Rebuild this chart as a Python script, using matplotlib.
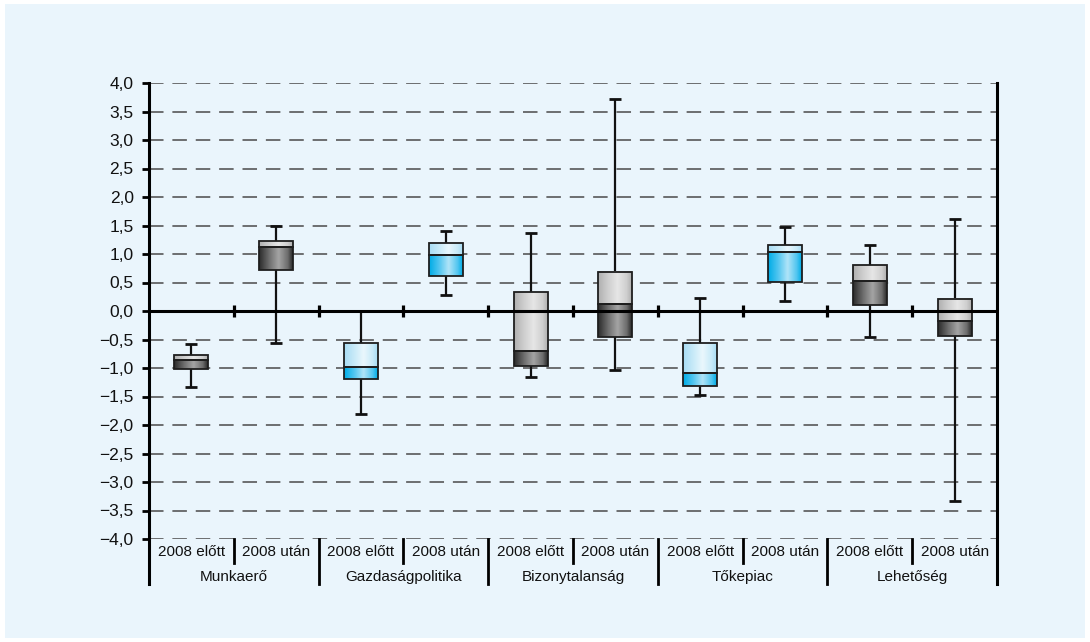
import matplotlib
matplotlib.use("Agg")
import matplotlib.pyplot as plt
import numpy as np
from matplotlib.colors import LinearSegmentedColormap
from matplotlib.patches import Rectangle
from matplotlib.lines import Line2D

plt.rcParams['font.family'] = ['Liberation Sans', 'DejaVu Sans']

# ---- data ----
groups = ['Munkaerő', 'Gazdaságpolitika', 'Bizonytalanság', 'Tőkepiac', 'Lehetőség']
periods = ['2008 előtt', '2008 után']
whisker_low = [-1.33, -0.56, -1.80, 0.275, -1.16, -1.04, -1.47, 0.17, -0.45, -3.33]
q1 = [-1.01, 0.72, -1.20, 0.61, -0.96, -0.45, -1.31, 0.51, 0.10, -0.44]
median = [-0.86, 1.13, -0.98, 0.99, -0.70, 0.12, -1.08, 1.04, 0.53, -0.18]
q3 = [-0.78, 1.22, -0.56, 1.19, 0.33, 0.69, -0.57, 1.15, 0.80, 0.21]
whisker_high = [-0.58, 1.50, 0.0, 1.40, 1.36, 3.72, 0.23, 1.48, 1.16, 1.62]
group_style = ['gray', 'blue', 'gray', 'blue', 'gray']
yticks = np.arange(-4.0, 4.01, 0.5)

# ---- styles ----
bg = '#eaf5fc'
pos = [0, 0.3, 0.58, 0.85, 1]
def cmap(edge, mid, light):
    return LinearSegmentedColormap.from_list('c', list(zip(pos, [edge, mid, light, mid, edge])))
cmaps = {
    'gray': (cmap('#2c2c2c', '#6e6e6e', '#a4a4a4'), cmap('#b0b0b0', '#cfcfcf', '#e6e6e6')),
    'blue': (cmap('#00acE6', '#52c6f0', '#b0e4f8'), cmap('#a8dcf4', '#c8eaf8', '#eaf7fd')),
}

fig = plt.figure(figsize=(10.9, 6.42), dpi=100, facecolor='white')
fig.patches.append(Rectangle((5/1090, 4/642), 1080/1090, 634/642, transform=fig.transFigure,
                             facecolor=bg, edgecolor='none', zorder=-10))
ax = fig.add_axes([149/1090, 1 - 539/642, (997-149)/1090, (539-83)/642])
ax.set_facecolor('none')

n = len(groups) * len(periods)
xs = np.arange(n)
bw = 0.2
cw = 0.071
grad = np.linspace(0, 1, 64).reshape(1, -1)

for i in range(n):
    style = group_style[i // 2]
    cm_low, cm_up = cmaps[style]
    x = xs[i]
    # whisker
    ax.plot([x, x], [whisker_low[i], whisker_high[i]], color='#111111', lw=1.6, zorder=2,
            solid_capstyle='butt')
    for yv in (whisker_low[i], whisker_high[i]):
        ax.plot([x - cw, x + cw], [yv, yv], color='#111111', lw=2.0, zorder=2, solid_capstyle='butt')
    # lower part
    for (y0, y1, cm) in ((q1[i], median[i], cm_low), (median[i], q3[i], cm_up)):
        ax.imshow(grad, cmap=cm, extent=(x - bw, x + bw, y0, y1), aspect='auto',
                  interpolation='bilinear', zorder=3)
        ax.add_patch(Rectangle((x - bw, y0), 2 * bw, y1 - y0, facecolor='none',
                               edgecolor='#1e1e1e', lw=1.3, zorder=4))

ax.set_xlim(-0.5, n - 0.5)
ax.set_ylim(-4.0, 4.0)

# grid
for yv in yticks:
    if abs(yv) < 1e-9:
        continue
    ax.axhline(yv, color='#4a4a4a', lw=1.1, linestyle=(0, (9.5, 5.8)), zorder=1)

# zero line and ticks
ax.axhline(0, color='black', lw=2.2, zorder=6)
ax.plot(np.arange(0.5, n - 0.5, 1.0), np.zeros(n - 1), linestyle='none', marker='|',
        markersize=8, markeredgewidth=2.3, color='black', zorder=6)

# spines
for s in ax.spines.values():
    s.set_visible(False)
bottom_ext = -45 / 456
mid_ext = -24 / 456
for xa in (0.0, 1.0):
    ax.add_line(Line2D([xa, xa], [1.0, bottom_ext], transform=ax.transAxes, color='black',
                       lw=2.2, clip_on=False, zorder=7))

trans = ax.get_xaxis_transform()
for k in range(1, n):
    xb = k - 0.5
    ye = bottom_ext if k % 2 == 0 else mid_ext
    ax.add_line(Line2D([xb, xb], [0, ye], transform=trans, color='black', lw=2.0,
                       clip_on=False, zorder=7))

# y ticks
ax.set_yticks(yticks)
ax.set_yticklabels([f"{v:.1f}".replace('.', ',').replace('-', '\u2212') for v in yticks],
                   fontsize=12.5, color='#111111')
ax.tick_params(axis='y', direction='out', length=5, width=2, color='black', pad=6)
ax.set_xticks([])

# category labels
for i in range(n):
    ax.text(xs[i], -13 / 456, periods[i % 2], transform=trans, ha='center', va='center',
            fontsize=11, color='#111111')
for g, name in enumerate(groups):
    ax.text(2 * g + 0.5, -38 / 456, name, transform=trans, ha='center', va='center',
            fontsize=11, color='#111111')

fig.savefig('out.png', dpi=100, facecolor='white')
